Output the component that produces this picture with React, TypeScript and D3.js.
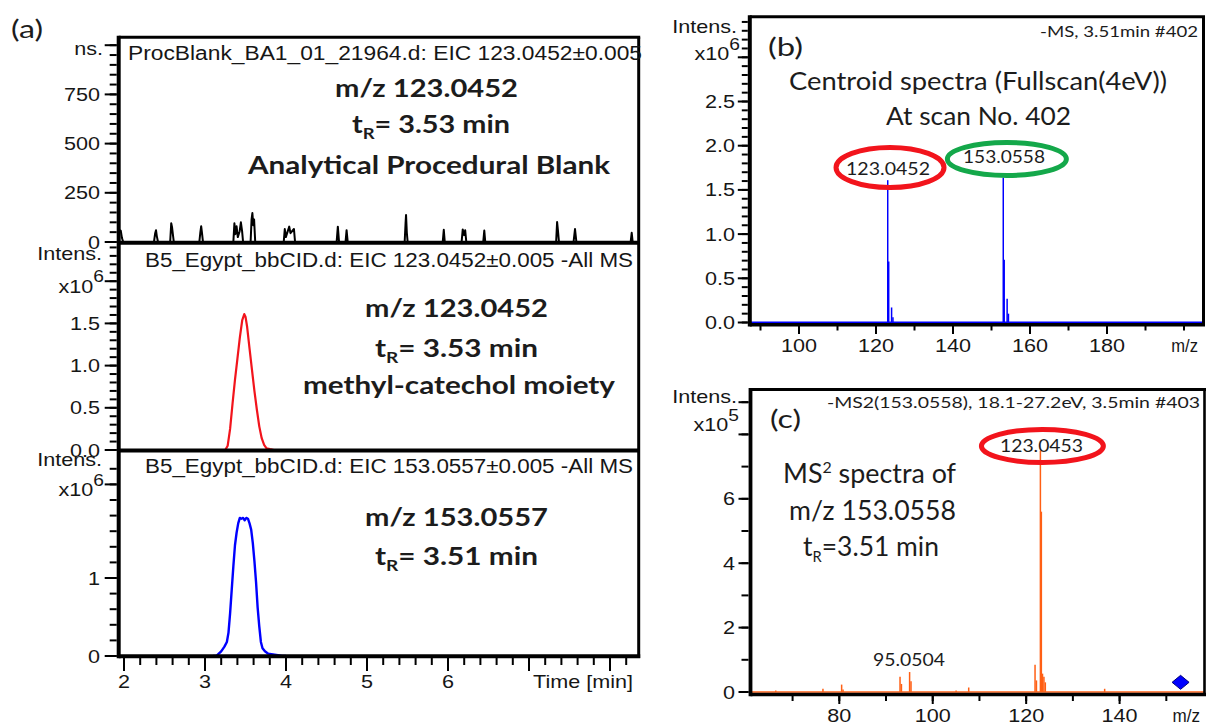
import React from "react";
import * as d3 from "d3";

// ---------------- data ----------------
// (a) top: analytical procedural blank, EIC 123.0452 (intensity, counts)
const blankTime = [
  1.93, 1.945, 1.96, 1.975, 1.99,
  2.37, 2.385, 2.395, 2.405, 2.42,
  2.57, 2.583, 2.593, 2.603, 2.615,
  2.93, 2.943, 2.953, 2.963, 2.975,
  3.35, 3.363, 3.375, 3.39, 3.405, 3.428, 3.443, 3.458, 3.47,
  3.563, 3.575, 3.585, 3.596, 3.606, 3.62,
  3.972, 3.985, 3.998, 4.04, 4.055, 4.098, 4.112,
  4.625, 4.64, 4.655, 4.735, 4.748, 4.762,
  5.465, 5.476, 5.482, 5.492, 5.502,
  5.935, 5.948, 5.96,
  6.168, 6.182, 6.198, 6.212, 6.226,
  6.435, 6.448, 6.46,
  7.335, 7.347, 7.358, 7.37,
  7.55, 7.568, 7.585,
  8.255, 8.268, 8.28, 8.35,
];
const blankIntensity = [
  45, 60, 58, 20, 0,
  0, 45, 60, 30, 0,
  0, 95, 75, 40, 0,
  0, 50, 80, 45, 0,
  0, 95, 40, 80, 25, 55, 100, 55, 0,
  0, 115, 147, 85, 115, 0,
  0, 66, 25, 78, 45, 66, 0,
  0, 78, 0, 0, 60, 0,
  0, 95, 137, 45, 0,
  0, 62, 0,
  0, 64, 35, 60, 0,
  0, 58, 0,
  0, 101, 55, 0,
  0, 66, 0,
  0, 47, 0, 0,
];

// (a) middle: EIC 123.0452 in sample (x10^6)
const redTime = [3.2, 3.25, 3.28, 3.31, 3.34, 3.37, 3.4, 3.43, 3.46, 3.485, 3.5, 3.52, 3.55, 3.58, 3.61, 3.64, 3.67, 3.7, 3.73, 3.76, 3.8, 3.85, 3.9];
const redIntensity = [0, 0, 0.05, 0.25, 0.55, 0.83, 1.08, 1.33, 1.54, 1.61, 1.58, 1.46, 1.2, 0.95, 0.7, 0.48, 0.28, 0.14, 0.06, 0.02, 0.01, 0.0, 0];

// (a) bottom: EIC 153.0557 in sample (x10^6)
const blueTime = [3.1, 3.14, 3.17, 3.2, 3.24, 3.27, 3.29, 3.31, 3.33, 3.35, 3.37, 3.39, 3.41, 3.43, 3.45, 3.47, 3.49, 3.51, 3.53, 3.55, 3.57, 3.59, 3.61, 3.63, 3.65, 3.67, 3.69, 3.71, 3.74, 3.78, 3.84, 3.9, 3.95, 4.0];
const blueIntensity = [0, 0, 0.03, 0.06, 0.12, 0.18, 0.3, 0.55, 0.85, 1.15, 1.42, 1.58, 1.7, 1.77, 1.76, 1.77, 1.74, 1.77, 1.76, 1.7, 1.62, 1.45, 1.22, 0.95, 0.62, 0.38, 0.18, 0.1, 0.06, 0.03, 0.02, 0.01, 0, 0];

// (b) centroid full scan spectrum (x10^6)
const msMz = [123.0452, 123.3, 124.05, 124.4, 153.0558, 153.3, 154.06, 154.4];
const msIntensity = [1.61, 0.69, 0.17, 0.06, 1.64, 0.71, 0.27, 0.1];

// (c) MS2 spectrum of 153.0558 (x10^5)
const ms2Mz = [66.4, 76.5, 80.5, 80.8, 93.0, 93.3, 95.05, 95.35, 105.0, 107.7, 121.9, 122.2, 123.0453, 123.25, 123.5, 123.8, 124.1, 136.8];
const ms2Intensity = [0.05, 0.1, 0.23, 0.08, 0.47, 0.25, 0.62, 0.33, 0.05, 0.14, 0.85, 0.36, 7.49, 5.6, 0.57, 0.47, 0.3, 0.1];
const precursorMz = 153.0558;
const precursorMark = 0.3;

// ticks
const timeLabels = [2, 3, 4, 5, 6];
const timeMajor = [2, 3, 4, 5, 6, 7, 8];
const timeMinor = d3.range(0, 32).map((i) => 2 + i * 0.2);
const topMinor = d3.range(0, 21).map((i) => i * 50);
const topMajor = [0, 250, 500, 750, 1000];
const topLabels = [0, 250, 500, 750];
const midMinor = d3.range(0, 25).map((i) => i / 10);
const midMajor = [0, 0.5, 1, 1.5, 2];
const midLabels = [0, 0.5, 1.0, 1.5];
const botMinor = d3.range(0, 13).map((i) => i * 0.2);
const botMajor = [0, 1, 2.2];
const botLabels = [0, 1];
const bYMinor = d3.range(0, 35).map((i) => i / 10);
const bYMajor = [0, 0.5, 1, 1.5, 2, 2.5, 3];
const bYLabels = [0, 0.5, 1.0, 1.5, 2.0, 2.5];
const bXMinor = d3.range(90, 201, 10);
const bXLabels = [100, 120, 140, 160, 180];
const cYMinor = d3.range(0, 10);
const cYMajor = [0, 2, 4, 6, 8, 9];
const cYLabels = [0, 2, 4, 6];
const cXMinor = d3.range(70, 151, 10);
const cXLabels = [80, 100, 120, 140];

// ---------------- style ----------------
const ARIAL = "'Liberation Sans', Arial, sans-serif";
const CAL = "Lato, 'Open Sans', sans-serif";
const SX = 1.2;
const INK = "#161616";
const RED = "#f2141c";
const GREEN = "#14a84a";
const BLUE = "#0000ff";
const ORANGE = "#ff5f14";

function ST({ x, y, anchor = "end", size = 18, sx = SX, fill = INK, children }: any) {
  return (
    <g transform={`translate(${x},${y}) scale(${sx},1)`}>
      <text x={0} y={0} textAnchor={anchor} fontFamily={ARIAL} fontSize={size} fill={fill}>
        {children}
      </text>
    </g>
  );
}

function FT({ x, y, w, size, weight = 400, family = CAL, fill = "#1c1c1c", children }: any) {
  return (
    <text x={x} y={y} textLength={w} lengthAdjust="spacingAndGlyphs" fontFamily={family} fontSize={size} fontWeight={weight} fill={fill}>
      {children}
    </text>
  );
}

function YAxis({ x, scale, minor, major, labels, fmt, labelX, majorLen = 12, minorLen = 7 }: any) {
  return (
    <g>
      {minor.map((v: number, i: number) => (
        <line key={"n" + i} x1={x - minorLen} x2={x} y1={scale(v)} y2={scale(v)} stroke="#000" strokeWidth={2} />
      ))}
      {major.map((v: number, i: number) => (
        <line key={"j" + i} x1={x - majorLen} x2={x} y1={scale(v)} y2={scale(v)} stroke="#000" strokeWidth={2} />
      ))}
      {labels.map((v: number, i: number) => (
        <ST key={"l" + i} x={labelX} y={scale(v) + 6.5}>
          {fmt(v)}
        </ST>
      ))}
    </g>
  );
}

function XAxis({ y, scale, minor, major, labels, labelY, majorLen = 13, minorLen = 7 }: any) {
  return (
    <g>
      {minor.map((v: number, i: number) => (
        <line key={"n" + i} x1={scale(v)} x2={scale(v)} y1={y} y2={y + minorLen} stroke="#000" strokeWidth={2} />
      ))}
      {major.map((v: number, i: number) => (
        <line key={"j" + i} x1={scale(v)} x2={scale(v)} y1={y} y2={y + majorLen} stroke="#000" strokeWidth={2} />
      ))}
      {labels.map((v: number, i: number) => (
        <ST key={"l" + i} x={scale(v)} y={labelY} anchor="middle">
          {String(v)}
        </ST>
      ))}
    </g>
  );
}

export default function App() {
  // panel (a)
  const xA = d3.scaleLinear().domain([2, 8]).range([124, 610]);
  const yTop = d3.scaleLinear().domain([0, 1000]).range([242, 45.2]);
  const yMid = d3.scaleLinear().domain([0, 2]).range([450, 281.2]);
  const yBot = d3.scaleLinear().domain([0, 2.2]).range([656, 484.4]);
  // panel (b)
  const xB = d3.scaleLinear().domain([100, 180]).range([799, 1107]);
  const yB = d3.scaleLinear().domain([0, 3]).range([322.5, 57.3]);
  // panel (c)
  const xC = d3.scaleLinear().domain([80, 140]).range([839.3, 1119.6]);
  const yC = d3.scaleLinear().domain([0, 8]).range([692, 434.4]);

  const blankPts = blankTime.map((t, i) => [t, blankIntensity[i]]);
  const redPts = redTime.map((t, i) => [t, redIntensity[i]]);
  const bluePts = blueTime.map((t, i) => [t, blueIntensity[i]]);

  const lineTop = d3.line<number[]>().x((d) => xA(d[0])).y((d) => yTop(d[1]));
  const lineMid = d3.line<number[]>().x((d) => xA(d[0])).y((d) => yMid(d[1]));
  const lineBot = d3.line<number[]>().x((d) => xA(d[0])).y((d) => yBot(d[1]));

  const dx = xC(precursorMz);
  const dy = yC(precursorMark);
  const dia = d3.path();
  dia.moveTo(dx, dy - 7);
  dia.lineTo(dx + 8.5, dy);
  dia.lineTo(dx, dy + 7);
  dia.lineTo(dx - 8.5, dy);
  dia.closePath();

  const aL = 118.7, aR = 638.7, aT = 37.3;
  const bL = 749.8, bR = 1203.5, bT = 16.7;
  const cL = 750.5, cR = 1204.5, cT = 389.5;

  return (
    <svg width={1206} height={726} style={{ position: "absolute", left: 0, top: 0, display: "block" }}>
      <rect x={0} y={0} width={1206} height={726} fill="#fff" />

      {/* ================= panel (a) ================= */}
      <FT x={11} y={38} w={32} size={25}>(a)</FT>

      {/* traces */}
      <path d={lineTop(blankPts) || ""} fill="none" stroke="#000" strokeWidth={2} strokeLinejoin="round" />
      <path d={lineMid(redPts) || ""} fill="none" stroke={RED} strokeWidth={2.2} strokeLinejoin="round" />
      <path d={lineBot(bluePts) || ""} fill="none" stroke={BLUE} strokeWidth={2.4} strokeLinejoin="round" />

      {/* frames */}
      <line x1={aL} x2={aR + 1.5} y1={aT} y2={aT} stroke="#000" strokeWidth={3} />
      <line x1={aR} x2={aR} y1={aT} y2={658} stroke="#000" strokeWidth={3} />
      <line x1={aL} x2={aR} y1={yTop(0) + 0.7} y2={yTop(0) + 0.7} stroke="#000" strokeWidth={4} />
      <line x1={aL} x2={aR} y1={yMid(0) + 0.6} y2={yMid(0) + 0.6} stroke="#000" strokeWidth={4} />
      <line x1={aL} x2={aR + 1.5} y1={yBot(0) + 0.3} y2={yBot(0) + 0.3} stroke="#000" strokeWidth={4} />
      <line x1={aL} x2={aL} y1={aT - 1.5} y2={658.3} stroke="#000" strokeWidth={4} />

      {/* y axes */}
      <YAxis x={aL - 2} scale={yTop} minor={topMinor} major={topMajor} labels={topLabels} fmt={(v: number) => String(v)} labelX={100} />
      <ST x={103} y={55}>ns.</ST>
      <YAxis x={aL - 2} scale={yMid} minor={midMinor} major={midMajor} labels={midLabels} fmt={(v: number) => v.toFixed(1)} labelX={100} />
      <ST x={102} y={260}>Intens.</ST>
      <ST x={104} y={293}>
        x10<tspan dy={-11} fontSize={16}>6</tspan>
      </ST>
      <YAxis x={aL - 2} scale={yBot} minor={botMinor} major={botMajor} labels={botLabels} fmt={(v: number) => String(v)} labelX={100} />
      <ST x={102} y={466}>Intens.</ST>
      <ST x={104} y={496}>
        x10<tspan dy={-10} fontSize={16}>6</tspan>
      </ST>

      {/* x axis */}
      <XAxis y={yBot(0) + 2} scale={xA} minor={timeMinor} major={timeMajor} labels={timeLabels} labelY={688} />
      <ST x={633} y={688}>Time [min]</ST>

      {/* titles */}
      <FT x={128} y={60} w={514} size={20} family={ARIAL} fill={INK}>ProcBlank_BA1_01_21964.d: EIC 123.0452±0.005</FT>
      <FT x={145} y={267} w={488} size={20} family={ARIAL} fill={INK}>B5_Egypt_bbCID.d: EIC 123.0452±0.005 -All MS</FT>
      <FT x={145} y={473} w={488} size={20} family={ARIAL} fill={INK}>B5_Egypt_bbCID.d: EIC 153.0557±0.005 -All MS</FT>

      {/* annotations */}
      <FT x={335} y={97} w={183} size={25} weight={700}>m/z 123.0452</FT>
      <FT x={352} y={133} w={158} size={25} weight={700}>
        t<tspan dy={6} fontSize={16}>R</tspan>
        <tspan dy={-6}>= 3.53 min</tspan>
      </FT>
      <FT x={248} y={174} w={362} size={25} weight={700}>Analytical Procedural Blank</FT>

      <FT x={365} y={317} w={183} size={25} weight={700}>m/z 123.0452</FT>
      <FT x={375} y={357} w={163} size={25} weight={700}>
        t<tspan dy={6} fontSize={16}>R</tspan>
        <tspan dy={-6}>= 3.53 min</tspan>
      </FT>
      <FT x={303} y={394} w={312} size={25} weight={700}>methyl-catechol moiety</FT>

      <FT x={365} y={526} w={183} size={25} weight={700}>m/z 153.0557</FT>
      <FT x={375} y={565} w={163} size={25} weight={700}>
        t<tspan dy={6} fontSize={16}>R</tspan>
        <tspan dy={-6}>= 3.51 min</tspan>
      </FT>

      {/* ================= panel (b) ================= */}
      <line x1={bL} x2={bR} y1={yB(0) - 0.2} y2={yB(0) - 0.2} stroke={BLUE} strokeWidth={1.6} />
      {msMz.map((m, i) => (
        <line key={"b" + i} x1={xB(m)} x2={xB(m)} y1={yB(0)} y2={yB(msIntensity[i])} stroke={BLUE} strokeWidth={1.5} />
      ))}
      <line x1={bL} x2={bR + 1.5} y1={bT} y2={bT} stroke="#000" strokeWidth={3} />
      <line x1={bR} x2={bR} y1={bT} y2={325} stroke="#000" strokeWidth={3} />
      <line x1={bL} x2={bR + 1.5} y1={324.8} y2={324.8} stroke="#000" strokeWidth={3.5} />
      <line x1={bL} x2={bL} y1={bT - 1.5} y2={326.5} stroke="#000" strokeWidth={4} />
      <YAxis x={bL - 2} scale={yB} minor={bYMinor} major={bYMajor} labels={bYLabels} fmt={(v: number) => v.toFixed(1)} labelX={735} majorLen={10} minorLen={6} />
      <ST x={737} y={33}>Intens.</ST>
      <ST x={740} y={60}>
        x10<tspan dy={-10} fontSize={16}>6</tspan>
      </ST>
      <XAxis y={326} scale={xB} minor={bXMinor} major={bXLabels} labels={bXLabels} labelY={352} majorLen={8} minorLen={4.5} />
      <ST x={1198} y={352} sx={0.92}>m/z</ST>

      <FT x={1040} y={37} w={158} size={16}>-MS, 3.51min #402</FT>
      <FT x={768} y={56} w={35} size={25}>(b)</FT>
      <FT x={789} y={90} w={378} size={25}>Centroid spectra (Fullscan(4eV))</FT>
      <FT x={886} y={125} w={185} size={25}>At scan No. 402</FT>

      <ellipse cx={xB(msMz[0]) + 2.3} cy={167.5} rx={54} ry={20} fill="none" stroke={RED} strokeWidth={5} />
      <ellipse cx={xB(msMz[4]) + 3.6} cy={159} rx={59.5} ry={16.5} fill="none" stroke={GREEN} strokeWidth={5} />
      <FT x={846} y={175} w={84} size={18}>123.0452</FT>
      <FT x={963} y={163} w={82} size={18}>153.0558</FT>

      {/* ================= panel (c) ================= */}
      <line x1={cL} x2={cR} y1={yC(0)} y2={yC(0)} stroke={ORANGE} strokeWidth={1.6} />
      {ms2Mz.map((m, i) => (
        <line key={"c" + i} x1={xC(m)} x2={xC(m)} y1={yC(0)} y2={yC(ms2Intensity[i])} stroke={ORANGE} strokeWidth={1.5} />
      ))}
      <line x1={cL} x2={cR + 1.5} y1={cT} y2={cT} stroke="#000" strokeWidth={3} />
      <line x1={cR} x2={cR} y1={cT} y2={695} stroke="#000" strokeWidth={2.6} />
      <line x1={cL} x2={cR + 1.5} y1={694.5} y2={694.5} stroke="#000" strokeWidth={3.5} />
      <line x1={cL} x2={cL} y1={cT - 1.5} y2={696.3} stroke="#000" strokeWidth={3.8} />
      <YAxis x={cL - 2} scale={yC} minor={cYMinor} major={cYMajor} labels={cYLabels} fmt={(v: number) => String(v)} labelX={735} majorLen={10} minorLen={7} />
      <ST x={737} y={403}>Intens.</ST>
      <ST x={739} y={431}>
        x10<tspan dy={-10} fontSize={16}>5</tspan>
      </ST>
      <XAxis y={696} scale={xC} minor={cXMinor} major={cXLabels} labels={cXLabels} labelY={722} majorLen={8} minorLen={5} />
      <ST x={1200} y={722} sx={0.95}>m/z</ST>

      <path d={dia.toString()} fill={BLUE} stroke="#00007a" strokeWidth={1} />

      <FT x={827} y={408} w={373} size={16}>-MS2(153.0558), 18.1-27.2eV, 3.5min #403</FT>
      <FT x={770} y={428} w={31} size={25}>(c)</FT>
      <ellipse cx={xC(ms2Mz[12]) + 2} cy={446} rx={61} ry={16.5} fill="none" stroke={RED} strokeWidth={5} />
      <FT x={1000} y={452} w={83} size={18}>123.0453</FT>
      <FT x={873} y={666} w={72} size={18}>95.0504</FT>

      <FT x={783} y={483} w={173} size={27}>
        MS<tspan dy={-10} fontSize={16}>2</tspan>
        <tspan dy={10}> spectra of</tspan>
      </FT>
      <FT x={789} y={520} w={167} size={27}>m/z 153.0558</FT>
      <FT x={803} y={556} w={136} size={27}>
        t<tspan dy={6} fontSize={15}>R</tspan>
        <tspan dy={-6}>=3.51 min</tspan>
      </FT>
    </svg>
  );
}
